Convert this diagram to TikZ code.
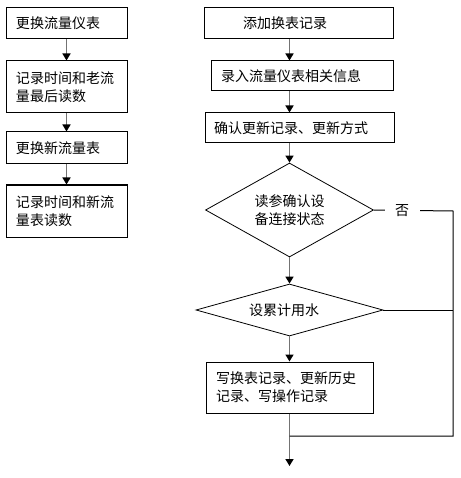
\documentclass[tikz,border=0pt]{standalone}
\usepackage{fontspec}
\setmainfont{Noto Sans CJK SC}
\usetikzlibrary{shapes.geometric,arrows.meta}
\begin{document}
\begin{tikzpicture}[x=1pt,y=-1pt,
  every node/.style={font=\fontsize{14}{18}\selectfont},
  box/.style={draw=black,line width=1pt,rectangle,inner sep=0pt,align=left},
  dia/.style={draw=black,line width=0.8pt,diamond,inner sep=0pt},
  flow/.style={draw=black!55,line width=1.5pt,-{Triangle[black,length=7pt,width=8pt]}},
  loop/.style={draw=black,line width=1pt}]
\useasboundingbox (0,0) rectangle (460,478);
% left column
\node[box,minimum width=121,minimum height=31,text width=101] (b1) at (66.5,23.5) {更换流量仪表};
\node[box,minimum width=121,minimum height=52,text width=101] (b2) at (66.5,87) {记录时间和老流\\量最后读数};
\node[box,minimum width=121,minimum height=32,text width=101] (b3) at (66.5,148) {更换新流量表};
\node[box,minimum width=121,minimum height=52,text width=101] (b4) at (66.5,211) {记录时间和新流\\量表读数};
\draw[flow] (b1.south) -- (b2.north);
\draw[flow] (b2.south) -- (b3.north);
\draw[flow] (b3.south) -- (b4.north);
% right column
\node[box,minimum width=189,minimum height=31,text width=169] (r1) at (298.5,23.5) {\hspace*{29pt}添加换表记录};
\node[box,minimum width=182,minimum height=30,text width=162] (r2) at (302,76) {录入流量仪表相关信息};
\node[box,minimum width=189,minimum height=30,text width=172] (r3) at (300,128) {确认更新记录、更新方式};
\node[dia,minimum width=168,minimum height=94] (d1) at (289.5,210) {};
\node[align=center,inner sep=0pt] (t1) at (d1.center) {读参确认设\\备连接状态};
\node[dia,minimum width=187,minimum height=52] (d2) at (289.5,310) {};
\node[inner sep=0pt] (t2) at (284,310) {设累计用水};
\node[box,minimum width=167,minimum height=51,text width=147] (f) at (289.5,387.5) {写换表记录、更新历史\\记录、写操作记录};
\coordinate (c1) at (453,211);
\coordinate (c2) at (453,310);
\coordinate (c3) at (453,436);
\coordinate (c4) at (289.5,436);
\coordinate (e) at (289.5,466);
\draw[flow] (r1.south -| d1.north) -- (r2.north -| d1.north);
\draw[flow] (r2.south -| d1.north) -- (r3.north -| d1.north);
\draw[flow] (r3.south -| d1.north) -- (d1.north);
\draw[flow] (d1.south) -- (d2.north);
\draw[flow] (d2.south) -- (f.north);
\draw[flow] (f.south) -- (e);
\draw[loop] (d1.east) -- (c1) -- (c3) -- (c4);
\draw[loop] (d2.east) -- (c2);
\node[fill=white,minimum width=35pt,minimum height=16pt,inner sep=0pt] (no) at (402,211) {否};
\end{tikzpicture}
\end{document}
